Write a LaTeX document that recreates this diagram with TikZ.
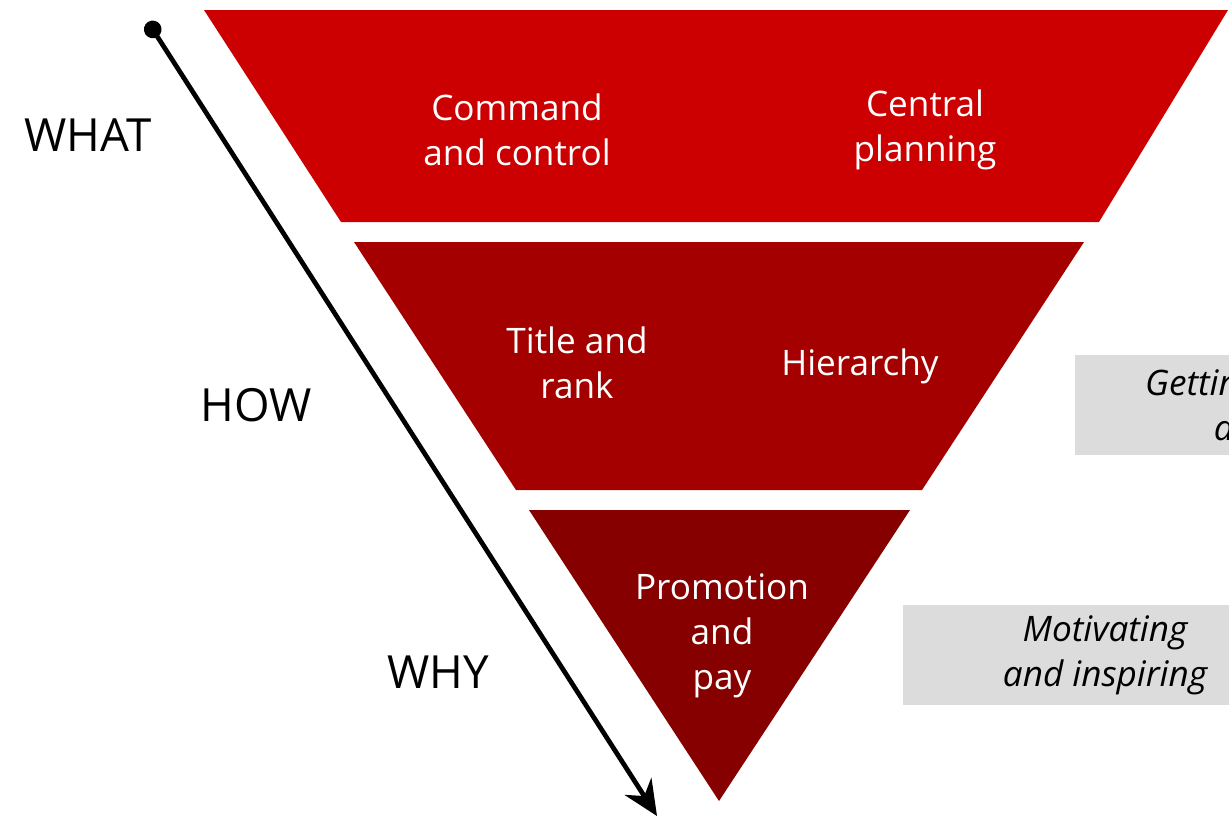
\documentclass[tikz,border=0pt]{standalone}
\usepackage{fontspec}
\setmainfont{Open Sans}
\usetikzlibrary{arrows.meta}
\definecolor{redtop}{HTML}{CC0000}
\definecolor{redmid}{HTML}{A50000}
\definecolor{redlow}{HTML}{870000}
\definecolor{notegray}{HTML}{DCDCDC}
\tikzstyle{band} = [text=white, align=center, font=\fontsize{20}{25.5}\selectfont]
\tikzstyle{level} = [text=black, font=\fontsize{26}{30}\selectfont]
\tikzstyle{note} = [fill=notegray, align=center, minimum width=8.1cm, minimum height=2cm, font=\itshape\fontsize{20}{25.5}\selectfont]
\tikzstyle{arrow} = [line width=2.7pt, {Circle[length=10pt]}-{Stealth[length=20pt,width=18pt]}]

\begin{document}
\begin{tikzpicture}[x=0.02cm, y=-0.02cm]
\useasboundingbox (0,0) rectangle (1229,819);

% the three bands
\fill [redtop] (204,10) -- (1228,10) -- (1099,222) -- (341,222) -- cycle;
\fill [redmid] (354,242) -- (1084,242) -- (922,490) -- (516,490) -- cycle;
\fill [redlow] (529,510) -- (910,510) -- (719,801) -- cycle;

\node (cmd) [band] at (517,130) {Command\\and control};
\node (plan) [band] at (925,130) {Central\\planning};
\node (title) [band] at (577,363) {Title and\\rank};
\node (hier) [band] at (860,366) {Hierarchy};
\node (pay) [band] at (722,636) {Promotion\\and\\pay};

\node (what) [level] at (88,135) {WHAT};
\node (how) [level] at (256,405) {HOW};
\node (why) [level] at (438,672) {WHY};

\node (getting) [note, anchor=west, minimum width=7.1cm] at (1075,405) {Getting things\\done};
\node (motiv) [note] at (1105,655) {Motivating\\and inspiring};

\coordinate (top) at (148,22);
\coordinate (bottom) at (657,816);
\draw [arrow] (top) -- (bottom);

\end{tikzpicture}
\end{document}
